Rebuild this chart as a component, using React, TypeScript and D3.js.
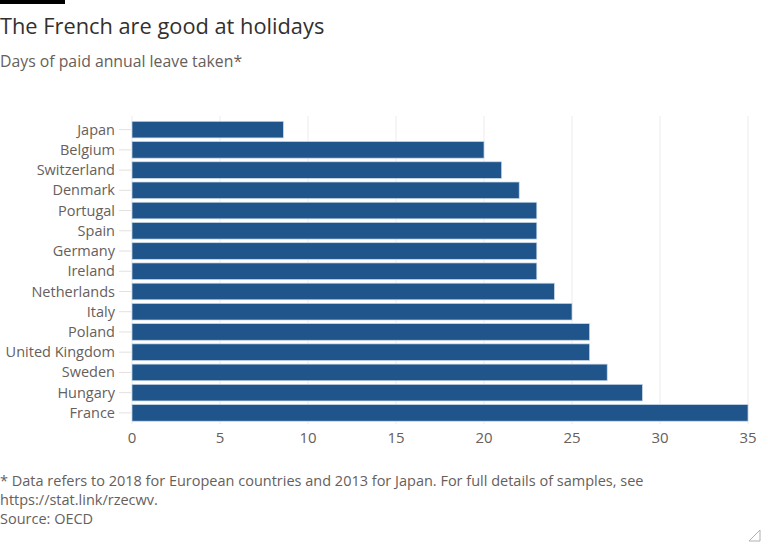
import * as d3 from "d3";

const countries = [
  "Japan",
  "Belgium",
  "Switzerland",
  "Denmark",
  "Portugal",
  "Spain",
  "Germany",
  "Ireland",
  "Netherlands",
  "Italy",
  "Poland",
  "United Kingdom",
  "Sweden",
  "Hungary",
  "France",
];
const leaveDays = [8.6, 20, 21, 22, 23, 23, 23, 23, 24, 25, 26, 26, 27, 29, 35];
const xTicks = [0, 5, 10, 15, 20, 25, 30, 35];

const title = "The French are good at holidays";
const subtitle = "Days of paid annual leave taken*";
const notes = [
  "* Data refers to 2018 for European countries and 2013 for Japan. For full details of samples, see",
  "https://stat.link/rzecwv.",
  "Source: OECD",
];

const W = 768;
const H = 549;
const FONT = "'Open Sans', 'Noto Sans', sans-serif";

export default function App() {
  const x = d3.scaleLinear().domain([0, 35]).range([132, 748]);
  const y = d3.scaleBand().domain(countries).range([119.5, 423]).paddingInner(0.18).paddingOuter(0.09);

  return (
    <svg
      width={W}
      height={H}
      style={{ position: "absolute", left: 0, top: 0, background: "#fff" }}
      fontFamily={FONT}
    >
      <rect x={0} y={0} width={65} height={4} fill="#000" />
      <text x={0} y={34} fontSize={21.8} fill="#33302e">
        {title}
      </text>
      <text x={0} y={67} fontSize={15.8} fill="#66605c">
        {subtitle}
      </text>

      {/* grid */}
      {xTicks.map((t) => (
        <line key={t} x1={x(t)} x2={x(t)} y1={116} y2={424} stroke="#ececec" strokeWidth={1} />
      ))}

      {/* y axis ticks and labels */}
      {countries.map((c) => {
        const cy = y(c)! + y.bandwidth() / 2;
        return (
          <g key={c}>
            <line x1={119} x2={131} y1={cy} y2={cy} stroke="#e3e1df" />
            <text x={115} y={cy} dy="0.35em" textAnchor="end" fontSize={14.5} fill="#66605c">
              {c}
            </text>
          </g>
        );
      })}

      {/* bars */}
      {countries.map((c, i) => (
        <rect
          key={c}
          x={x(0)}
          y={y(c)}
          width={x(leaveDays[i]) - x(0)}
          height={y.bandwidth()}
          fill="#1f558b"
          stroke="#c9d7e6"
          strokeWidth={0.7}
        />
      ))}

      {/* x axis labels */}
      {xTicks.map((t) => (
        <text key={t} x={x(t)} y={443} textAnchor="middle" fontSize={15} fill="#66605c">
          {t}
        </text>
      ))}

      {notes.map((n, i) => (
        <text key={i} x={0} y={486 + i * 19} fontSize={14.5} fill="#66605c">
          {n}
        </text>
      ))}

      <path d="M749,541 L760,530 L760,541 Z" fill="none" stroke="#b0b0b0" strokeWidth={1} />
    </svg>
  );
}
